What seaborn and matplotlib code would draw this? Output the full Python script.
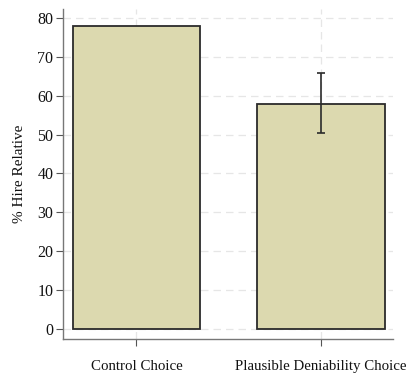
import matplotlib
matplotlib.use("Agg")
import matplotlib.pyplot as plt
import seaborn as sns
import pandas as pd
import numpy as np

# Share of hires by choice condition
conditions = ["Control Choice", "Plausible Deniability Choice"]
hire_pct = [77.8, 57.9]
ci_low = [np.nan, 50.5]
ci_high = [np.nan, 65.8]
y_ticks = [0, 10, 20, 30, 40, 50, 60, 70, 80]

df = pd.DataFrame({"condition": conditions, "hire": hire_pct})

sns.set_theme(style="white")
plt.rcParams["font.family"] = ["Liberation Serif", "DejaVu Serif"]

fig = plt.figure(figsize=(4.07, 3.73), dpi=100)
ax = fig.add_axes([0.155, 0.091, 0.811, 0.885])

sns.barplot(data=df, x="condition", y="hire", color="#DCD9AF", saturation=1,
            width=0.69, edgecolor="#2b2b2b", linewidth=1.3, errorbar=None, ax=ax)

# confidence interval whiskers
lo = np.array(hire_pct) - np.array(ci_low)
hi = np.array(ci_high) - np.array(hire_pct)
ax.errorbar(range(len(conditions)), hire_pct, yerr=[lo, hi], fmt="none",
            ecolor="#2b2b2b", elinewidth=1.2, capsize=3, capthick=1.2)

ax.set_ylim(-2.6, 82.3)
ax.set_xlim(-0.397, 1.39)
ax.set_yticks(y_ticks)
ax.set_xlabel("")
ax.set_ylabel("% Hire Relative", fontsize=11, color="#111111", labelpad=8)

ax.grid(True, linestyle=(0, (6, 4)), color="#e6e6e6", linewidth=0.9)
ax.set_axisbelow(True)

for side in ["top", "right"]:
    ax.spines[side].set_visible(False)
for side in ["left", "bottom"]:
    ax.spines[side].set_color("#777777")
    ax.spines[side].set_linewidth(1.0)

ax.tick_params(axis="y", length=5, width=0.8, color="#555555", labelsize=11.5,
               labelcolor="#111111", left=True, pad=2)
ax.tick_params(axis="x", length=5, width=0.8, color="#555555", labelsize=10.7,
               labelcolor="#111111", bottom=True, pad=10)

fig.savefig("out.png", dpi=100)
